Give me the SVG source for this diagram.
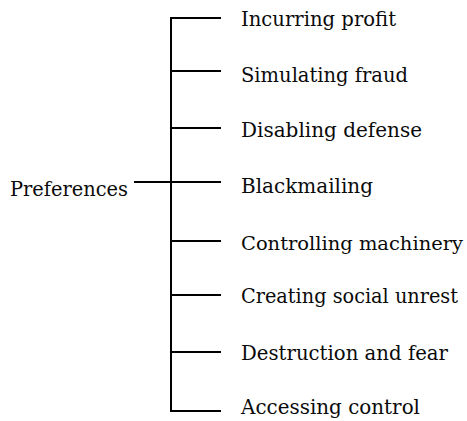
<svg xmlns="http://www.w3.org/2000/svg" width="467" height="421" viewBox="0 0 467 421">
<defs>
<style>
.ln{stroke:#000;stroke-width:2;fill:none;}
.t{font-family:"DejaVu Serif",serif;font-size:20px;fill:#0a0a0a;}
</style>
</defs>
<rect width="467" height="421" fill="#fff"/>
<g id="connectors">
<line class="ln" x1="171" y1="17.5" x2="171" y2="411"/>
<line class="ln" x1="134" y1="182" x2="171" y2="182"/>
<line class="ln" x1="170" y1="18" x2="221" y2="18"/>
<line class="ln" x1="170" y1="71" x2="221" y2="71"/>
<line class="ln" x1="170" y1="128" x2="221" y2="128"/>
<line class="ln" x1="170" y1="182" x2="221" y2="182"/>
<line class="ln" x1="170" y1="241" x2="221" y2="241"/>
<line class="ln" x1="170" y1="295" x2="221" y2="295"/>
<line class="ln" x1="170" y1="352" x2="221" y2="352"/>
<line class="ln" x1="170" y1="411" x2="221" y2="411"/>
</g>
<g id="root"><text class="t" x="10" y="196" textLength="118" lengthAdjust="spacingAndGlyphs">Preferences</text></g>
<g id="n1"><text class="t" x="241" y="26" textLength="155" lengthAdjust="spacingAndGlyphs">Incurring profit</text></g>
<g id="n2"><text class="t" x="241" y="82" textLength="167" lengthAdjust="spacingAndGlyphs">Simulating fraud</text></g>
<g id="n3"><text class="t" x="241" y="137" textLength="181" lengthAdjust="spacingAndGlyphs">Disabling defense</text></g>
<g id="n4"><text class="t" x="241" y="193" textLength="132" lengthAdjust="spacingAndGlyphs">Blackmailing</text></g>
<g id="n5"><text class="t" x="241" y="250" style="font-size:18.5px" textLength="222" lengthAdjust="spacingAndGlyphs">Controlling machinery</text></g>
<g id="n6"><text class="t" x="241" y="303" textLength="217" lengthAdjust="spacingAndGlyphs">Creating social unrest</text></g>
<g id="n7"><text class="t" x="241" y="360" textLength="207" lengthAdjust="spacingAndGlyphs">Destruction and fear</text></g>
<g id="n8"><text class="t" x="241" y="414" textLength="179" lengthAdjust="spacingAndGlyphs">Accessing control</text></g>
</svg>
